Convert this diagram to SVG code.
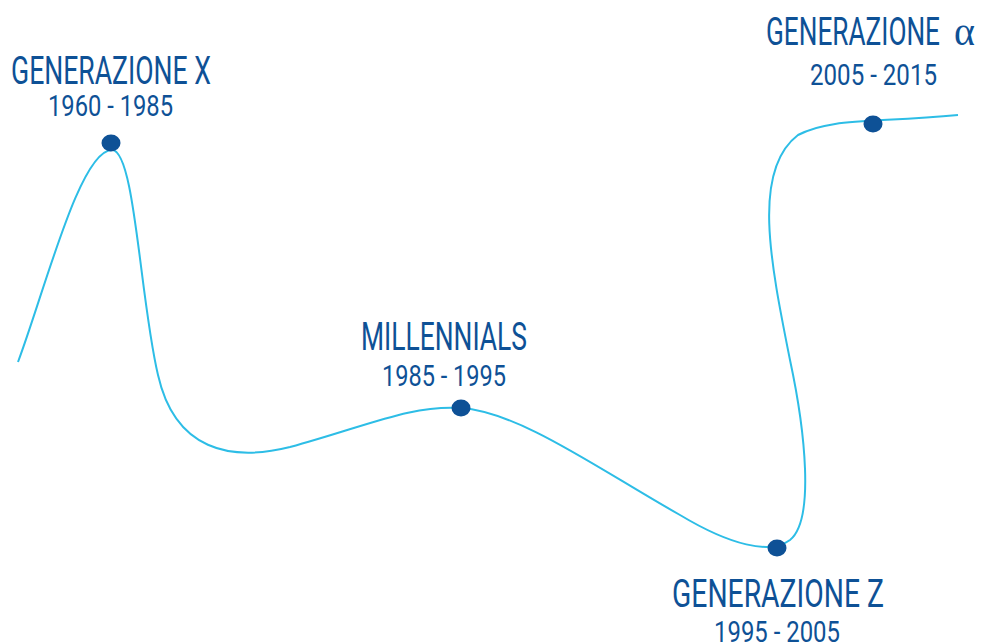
<svg xmlns="http://www.w3.org/2000/svg" width="985" height="644" viewBox="0 0 985 644">
<style>
.t{font-family:"Roboto","Liberation Sans",sans-serif;font-weight:400;fill:#0E5196;}
.h{font-size:39px;}
.y{font-size:29px;}
.dot{fill:#0E5196;}
.curve{fill:none;stroke:#2DBDE6;stroke-width:2;}
</style>
<rect width="985" height="644" fill="#ffffff"/>
<g id="connectors">
<path class="curve" d="M18,362 C45,290 80,150 112,150 C135,150 140,300 158,375 C175,450 230,462 290,447 C370,425 410,405 461,408 C520,412 600,470 680,515 C730,545 770,555 790,540 C815,520 805,430 790,360 C770,260 752,170 798,135 C830,118 870,123 958,115"/>
</g>
<g id="gen-x">
<ellipse class="dot" cx="111" cy="143" rx="9.5" ry="8.5"/>
<text class="t h" x="111" y="84" text-anchor="middle" textLength="200" lengthAdjust="spacingAndGlyphs">GENERAZIONE X</text>
<text class="t y" x="110.5" y="116" text-anchor="middle" textLength="125" lengthAdjust="spacingAndGlyphs">1960 - 1985</text>
</g>
<g id="millennials">
<ellipse class="dot" cx="461" cy="408" rx="9.5" ry="8.5"/>
<text class="t h" x="444" y="350" text-anchor="middle" textLength="166" lengthAdjust="spacingAndGlyphs">MILLENNIALS</text>
<text class="t y" x="444" y="386" text-anchor="middle" textLength="124" lengthAdjust="spacingAndGlyphs">1985 - 1995</text>
</g>
<g id="gen-z">
<ellipse class="dot" cx="777" cy="548" rx="9.5" ry="8.5"/>
<text class="t h" x="778" y="607" text-anchor="middle" textLength="212" lengthAdjust="spacingAndGlyphs">GENERAZIONE Z</text>
<text class="t y" x="777" y="642" text-anchor="middle" textLength="126" lengthAdjust="spacingAndGlyphs">1995 - 2005</text>
</g>
<g id="gen-alpha">
<ellipse class="dot" cx="873" cy="124" rx="9.5" ry="8.5"/>
<text class="t h" y="45"><tspan x="766" textLength="174" lengthAdjust="spacingAndGlyphs">GENERAZIONE</tspan><tspan x="954" font-family="Liberation Serif,serif" font-weight="normal" font-size="40">α</tspan></text>
<text class="t y" x="873.5" y="85" text-anchor="middle" textLength="127" lengthAdjust="spacingAndGlyphs">2005 - 2015</text>
</g>
</svg>
